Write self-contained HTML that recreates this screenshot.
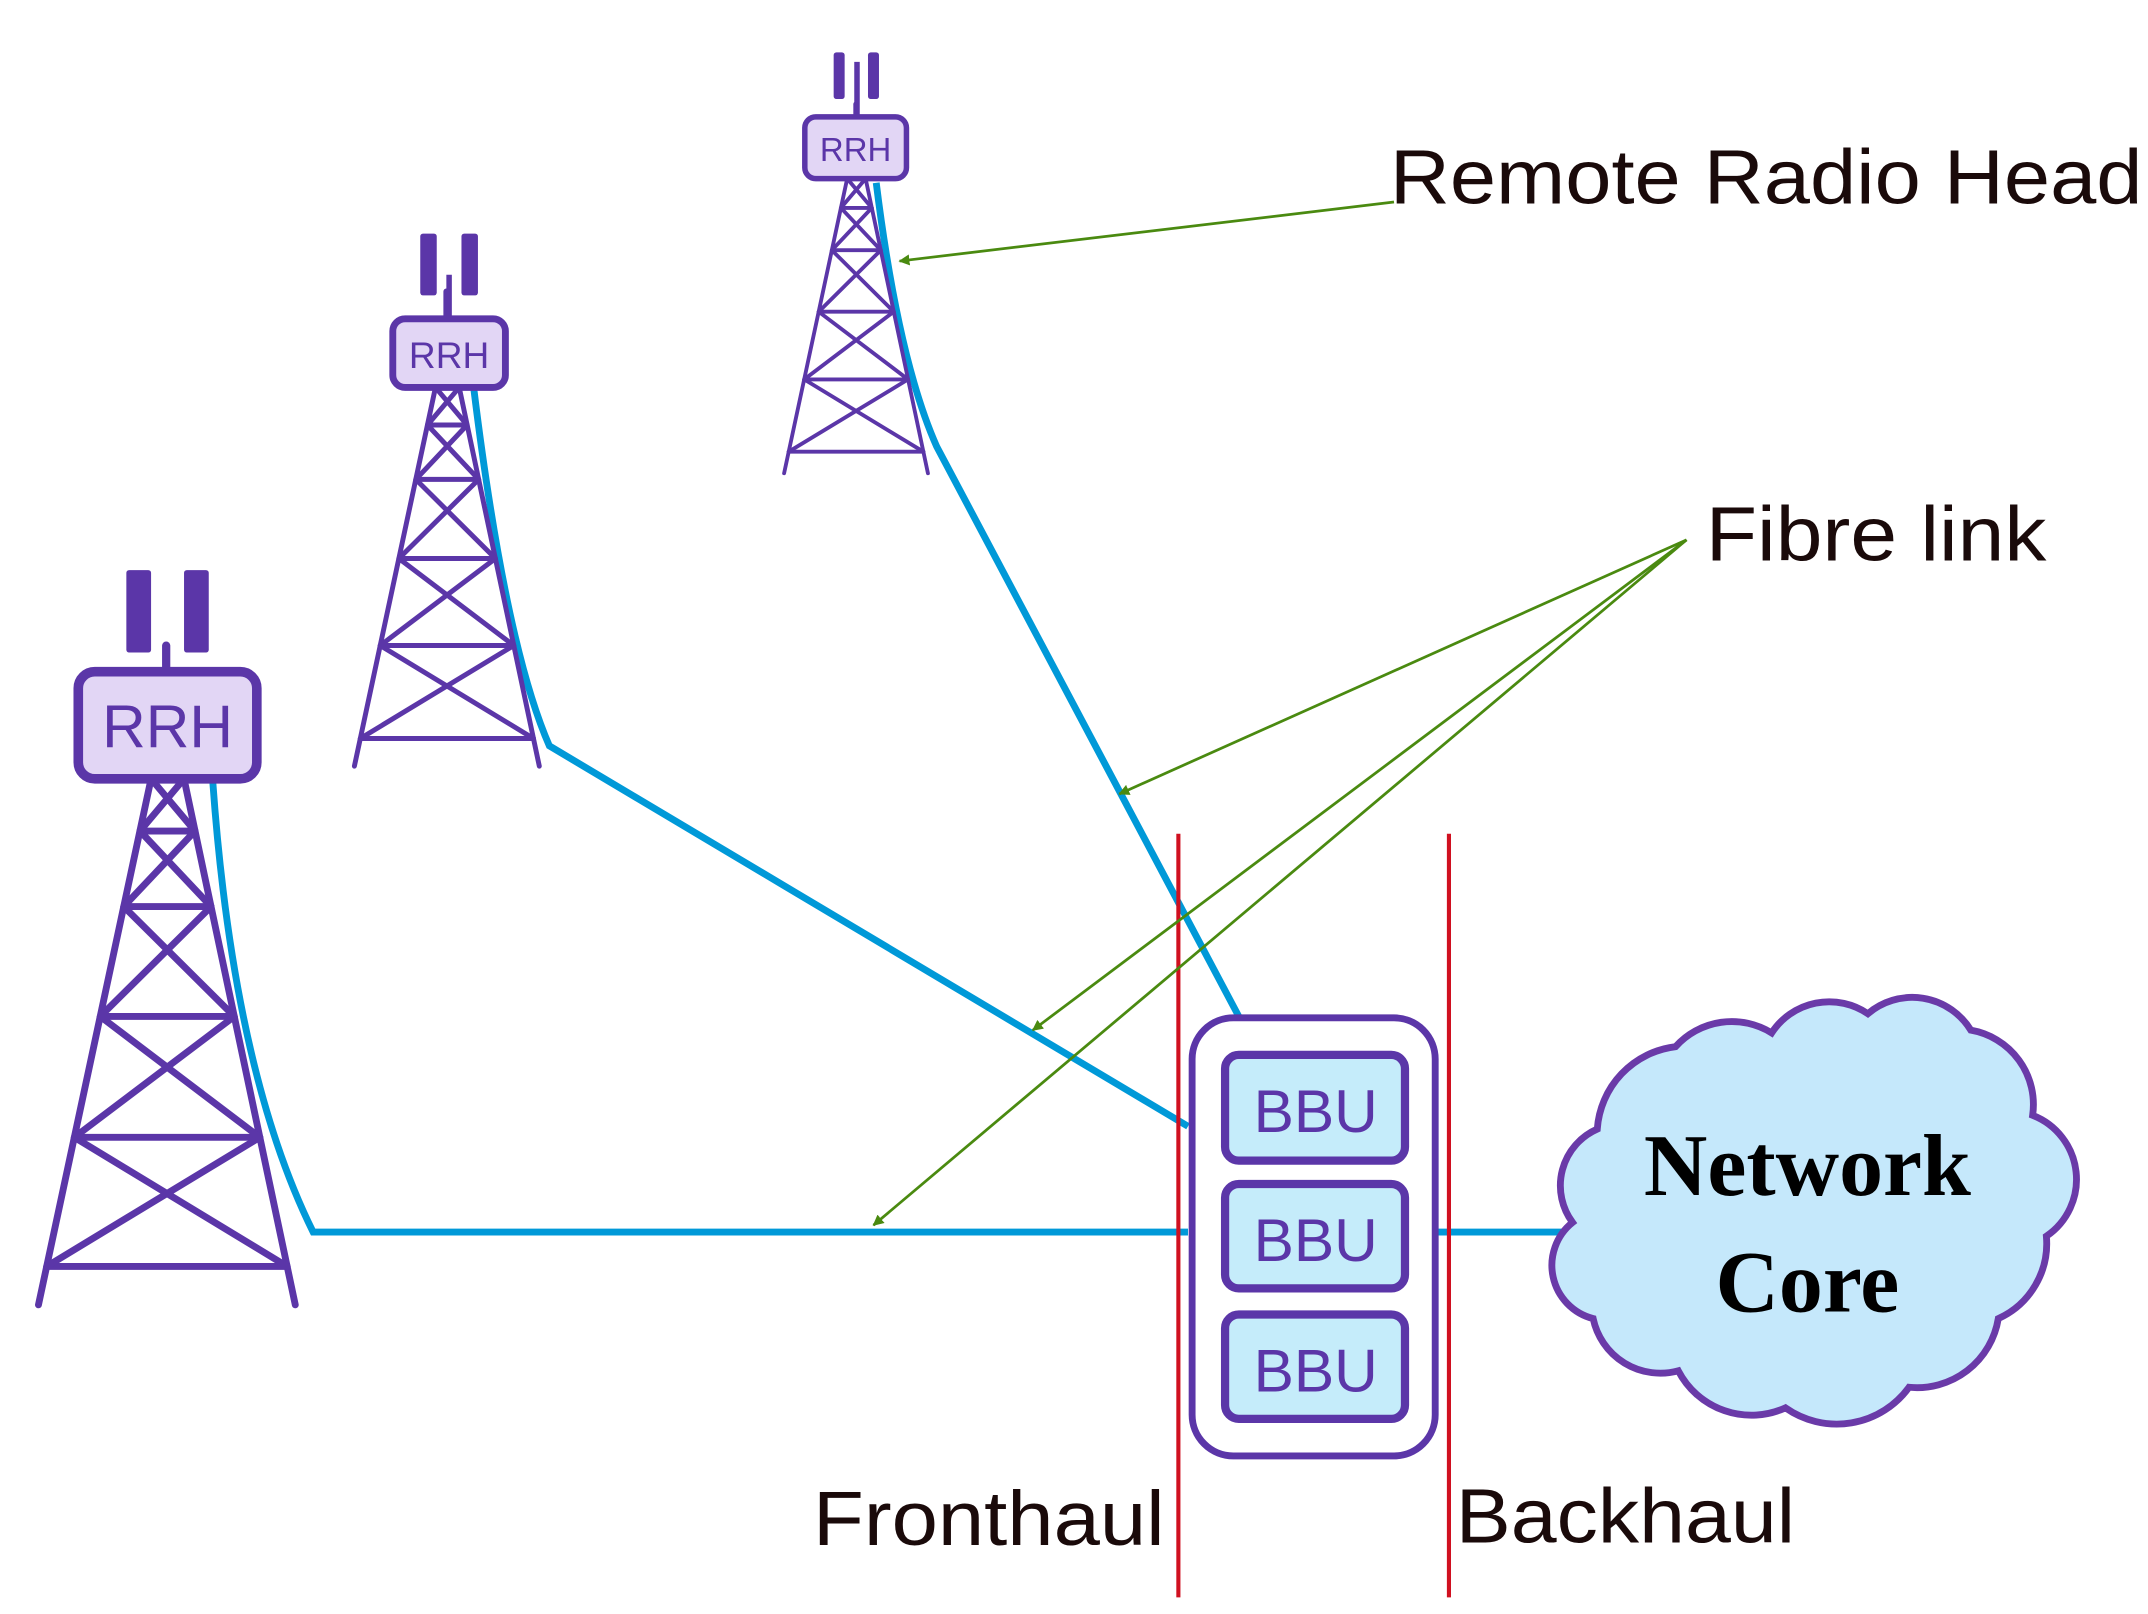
<!DOCTYPE html>
<html><head><meta charset="utf-8"><style>html,body{margin:0;padding:0;background:#fff}svg{display:block}</style></head>
<body>
<svg width="2148" height="1614" viewBox="0 0 1564 1175" xmlns="http://www.w3.org/2000/svg">
<defs>
<g id="tw" fill="none" stroke="#5b36a8" stroke-width="5" stroke-linecap="round">
<path d="M110,567 L28,950 M134,567 L215,950"/>
<path d="M101.9,605H142 M90.1,660H153.7 M73,740H170.6 M54.1,828H189.2 M34,922H209.1"/>
<path d="M110,567L142,605 M134,567L101.9,605 M101.9,605L153.7,660 M142,605L90.1,660 M90.1,660L170.6,740 M153.7,660L73,740 M73,740L189.2,828 M170.6,740L54.1,828 M54.1,828L209.1,922 M189.2,828L34,922"/>
<path d="M121,567V470" stroke-width="6"/>
</g>
<marker id="ar" viewBox="0 0 10 10" refX="9" refY="5" markerWidth="8" markerHeight="8" orient="auto" markerUnits="userSpaceOnUse"><path d="M0,0L10,5L0,10z" fill="#4a8a10"/></marker>
</defs>
<!-- fibres -->
<g fill="none" stroke="#0099d8" stroke-width="5">
<path d="M155,570 Q170,780 228,897 L865,897"/>
<path d="M345,283 Q368,470 400,543 L865,820"/>
<path d="M638,133 Q654,262 682,325 L902,740"/>
<path d="M1045,897 H1140"/>
</g>
<!-- towers -->
<use href="#tw"/>
<g transform="translate(325,282) scale(0.72) translate(-121,-567)"><use href="#tw"/></g>
<g transform="translate(623,130) scale(0.56) translate(-121,-567)"><use href="#tw"/></g>
<!-- antennas -->
<g fill="#5b36a8">
<rect x="92" y="415" width="18" height="60" rx="2"/><rect x="134" y="415" width="18" height="60" rx="2"/>
<rect x="306" y="170" width="12" height="45" rx="2"/><rect x="336" y="170" width="12" height="45" rx="2"/>
<rect x="607" y="38" width="8" height="34" rx="2"/><rect x="632" y="38" width="8" height="34" rx="2"/>
</g>
<g stroke="#5b36a8" stroke-width="4"><path d="M327,200V232M624,45V85"/></g>
<!-- RRH boxes -->
<g fill="#e2d6f5" stroke="#5b36a8">
<rect x="57" y="489" width="130" height="78" rx="12" stroke-width="7"/>
<rect x="286" y="232" width="82" height="50" rx="9" stroke-width="5"/>
<rect x="586" y="85" width="74" height="45" rx="8" stroke-width="4"/>
</g>
<g fill="#5b36a8" font-family="Liberation Sans, sans-serif" text-anchor="middle">
<text x="122" y="544" font-size="44">RRH</text>
<text x="327" y="268" font-size="27">RRH</text>
<text x="623" y="117" font-size="24">RRH</text>
</g>
<!-- BBU -->
<rect x="868" y="741" width="177" height="319" rx="30" fill="#fff" stroke="#5b36a8" stroke-width="5"/>
<g fill="#c5ecfa" stroke="#5b36a8" stroke-width="6">
<rect x="892" y="768" width="131" height="77" rx="10"/>
<rect x="892" y="862" width="131" height="76" rx="10"/>
<rect x="892" y="957" width="131" height="76" rx="10"/>
</g>
<g fill="#5b36a8" font-family="Liberation Sans, sans-serif" font-size="44" text-anchor="middle">
<text x="958" y="824">BBU</text><text x="958" y="918">BBU</text><text x="958" y="1013">BBU</text>
</g>
<!-- cloud -->
<path d="M1145,890 A45,45 0 0 1 1163,822 A65,65 0 0 1 1220,762 A55,55 0 0 1 1290,752 A50,50 0 0 1 1360,738 A50,50 0 0 1 1435,750 A55,55 0 0 1 1480,812 A50,50 0 0 1 1490,900 A60,60 0 0 1 1455,960 A60,60 0 0 1 1390,1010 A65,65 0 0 1 1300,1025 A60,60 0 0 1 1222,998 A50,50 0 0 1 1160,960 A40,40 0 0 1 1145,890 Z" fill="#c5e8fb" stroke="#6a3aa8" stroke-width="5"/>
<g font-family="Liberation Serif, serif" font-weight="bold" font-size="64" text-anchor="middle" fill="#000">
<text x="1316" y="870">Network</text><text x="1316" y="955">Core</text>
</g>
<!-- red lines -->
<g stroke="#d01020" stroke-width="3"><path d="M858,607V1163M1055,607V1163"/></g>
<!-- green arrows -->
<g stroke="#4a8a10" stroke-width="2" fill="none" marker-end="url(#ar)">
<path d="M1015,147L655,190"/>
<path d="M1228,393L815,578"/>
<path d="M1228,393L752,750"/>
<path d="M1228,393L636,892"/>
</g>
<!-- labels -->
<g font-family="Liberation Sans, sans-serif" font-size="56" fill="#1a0a0a">
<text x="1012" y="148" textLength="548" lengthAdjust="spacingAndGlyphs">Remote Radio Head</text>
<text x="1242" y="408" textLength="248" lengthAdjust="spacingAndGlyphs">Fibre link</text>
<text x="592" y="1125" textLength="256" lengthAdjust="spacingAndGlyphs">Fronthaul</text>
<text x="1060" y="1123" textLength="247" lengthAdjust="spacingAndGlyphs">Backhaul</text>
</g>
</svg>
</body></html>
